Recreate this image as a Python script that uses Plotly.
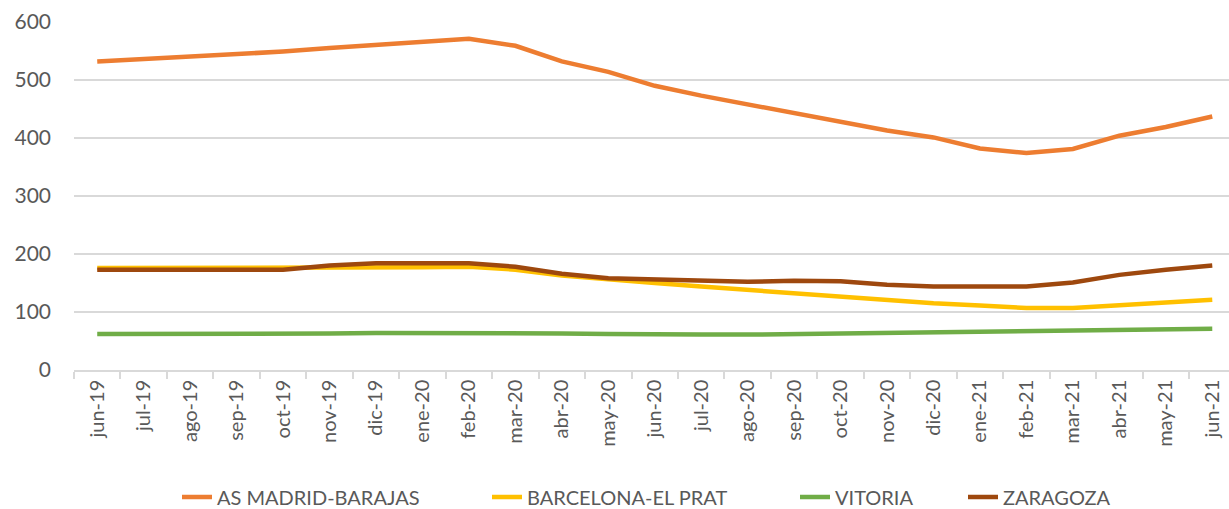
import plotly.graph_objects as go

months = ["jun-19", "jul-19", "ago-19", "sep-19", "oct-19", "nov-19", "dic-19", "ene-20",
          "feb-20", "mar-20", "abr-20", "may-20", "jun-20", "jul-20", "ago-20", "sep-20",
          "oct-20", "nov-20", "dic-20", "ene-21", "feb-21", "mar-21", "abr-21", "may-21", "jun-21"]

madrid = [532, 536, 540, 544, 549, 555, 560, 565, 571, 559, 532, 514, 490, 473, 458, 442,
          427, 413, 401, 382, 374, 381, 404, 419, 437]
barcelona = [176, 176, 176, 177, 176, 176, 177, 177, 178, 173, 163, 156, 150, 144, 138, 132,
             127, 121, 115, 111, 107, 107, 112, 117, 121]
vitoria = [62, 62, 62, 63, 63, 63, 64, 64, 64, 64, 63, 62, 61, 61, 61, 62,
           62, 63, 64, 65, 66, 67, 69, 70, 71]
zaragoza = [173, 173, 172, 172, 173, 180, 184, 184, 184, 178, 166, 158, 156, 154, 152, 154,
            153, 147, 144, 144, 144, 151, 164, 173, 180]

series = [
    ("AS MADRID-BARAJAS", madrid, "#ED7D31"),
    ("BARCELONA-EL PRAT", barcelona, "#FFC000"),
    ("VITORIA", vitoria, "#70AD47"),
    ("ZARAGOZA", zaragoza, "#9E480E"),
]

font_family = "Lato, Open Sans, sans-serif"
legend_names = ["legend", "legend2", "legend3", "legend4"]
legend_x_px = [177, 487, 795, 963]

fig = go.Figure()
for (name, vals, color), lg in zip(series, legend_names):
    fig.add_trace(go.Scatter(
        x=months, y=vals, name=name, mode="lines",
        line=dict(color=color, width=4.5, shape="linear"),
        legend=lg,
    ))

layout_legends = {}
for lg, px in zip(legend_names, legend_x_px):
    layout_legends[lg] = dict(
        orientation="h", xref="container", yref="container",
        x=px / 1229, xanchor="left", y=1 - 497 / 509, yanchor="middle",
        font=dict(size=20, color="#595959", family=font_family),
        bgcolor="rgba(0,0,0,0)", borderwidth=0,
    )

fig.update_layout(
    width=1229, height=509,
    margin=dict(l=74, r=0, t=22, b=139, autoexpand=False),
    paper_bgcolor="white", plot_bgcolor="white",
    font=dict(family=font_family, color="#595959", size=20),
    showlegend=True,
    **layout_legends,
)

fig.update_xaxes(
    type="category", range=[-0.5, 24.36], automargin=False,
    tickson="boundaries", ticks="outside", ticklen=7, tickcolor="#D9D9D9", tickwidth=1.5,
    showline=True, linecolor="#D9D9D9", linewidth=1.5,
    showgrid=False, tickangle=-90, tickfont=dict(size=20, color="#595959"),
    zeroline=False,
)
fig.update_yaxes(
    range=[0, 600], dtick=100, showgrid=True, gridcolor="#D9D9D9", gridwidth=1.5,
    zeroline=False, showline=False, ticks="", ticklabelstandoff=22, automargin=False,
    tickfont=dict(size=21, color="#595959"),
)

fig.write_html(
    "out.html",
    config={"displayModeBar": False},
    post_script="document.body.style.margin='0';document.body.style.overflow='hidden';",
)
